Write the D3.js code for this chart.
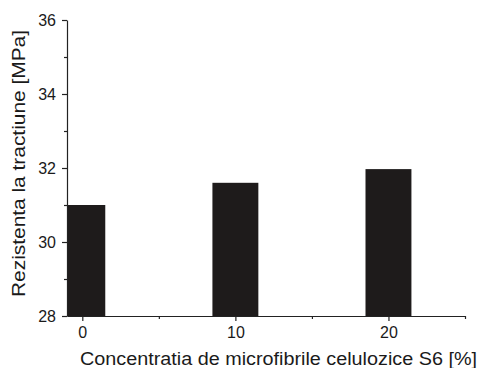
<!DOCTYPE html>
<html>
<head>
<meta charset="utf-8">
<script src="https://cdn.jsdelivr.net/npm/d3@7"></script>
<style>
  body { margin: 0; background: #fff; }
  text { font-family: "Liberation Sans", Arial, sans-serif; fill: #1a1a1a; }
</style>
</head>
<body>
<script>
const concentrations = [0, 10, 20];
const strength = [31.0, 31.6, 31.97];
const yMajorTicks = [28, 30, 32, 34, 36];
const yMinorTicks = [29, 31, 33, 35];
const xMajorTicks = [0, 10, 20];
const xMinorTicks = [5, 15, 25];

const width = 481;
const height = 368;
const margin = { top: 20, right: 16, bottom: 52, left: 67 };

const svg = d3.select("body").append("svg")
  .attr("width", width)
  .attr("height", height);

const xScale = d3.scaleLinear()
  .domain([-1, 25])
  .range([margin.left, width - margin.right]);

const yScale = d3.scaleLinear()
  .domain([28, 36])
  .range([height - margin.bottom, margin.top]);

const barW = 3; // in x units

svg.append("defs").append("clipPath").attr("id", "plot")
  .append("rect")
  .attr("x", margin.left).attr("y", margin.top)
  .attr("width", width - margin.left - margin.right)
  .attr("height", height - margin.top - margin.bottom);

// bars
svg.append("g").attr("clip-path", "url(#plot)")
  .selectAll("rect")
  .data(concentrations)
  .join("rect")
  .attr("x", d => xScale(d - barW / 2))
  .attr("width", d => xScale(d + barW / 2) - xScale(d - barW / 2))
  .attr("y", (d, i) => yScale(strength[i]))
  .attr("height", (d, i) => yScale(28) - yScale(strength[i]))
  .attr("fill", "#1e1b1b");

// x axis
const xAxis = svg.append("g")
  .attr("transform", `translate(0,${height - margin.bottom})`);
xAxis.call(d3.axisBottom(xScale).tickValues(xMajorTicks).tickSize(5).tickSizeOuter(0).tickPadding(6));
xAxis.append("g").call(d3.axisBottom(xScale).tickValues(xMinorTicks).tickSize(3).tickFormat(""))
  .select(".domain").remove();
xAxis.selectAll("text").attr("font-size", 16);

// y axis
const yAxis = svg.append("g")
  .attr("transform", `translate(${margin.left},0)`);
yAxis.call(d3.axisLeft(yScale).tickValues(yMajorTicks).tickSize(5).tickSizeOuter(0).tickPadding(6));
yAxis.append("g").call(d3.axisLeft(yScale).tickValues(yMinorTicks).tickSize(3).tickFormat(""))
  .select(".domain").remove();
yAxis.selectAll("text").attr("font-size", 16);

svg.selectAll(".domain, .tick line").attr("stroke", "#222").attr("stroke-width", 1.2);

// titles
svg.append("text")
  .attr("x", 80)
  .attr("y", 365)
  .attr("font-size", 17.5)
  .attr("textLength", 397)
  .attr("lengthAdjust", "spacingAndGlyphs")
  .text("Concentratia de microfibrile celulozice S6 [%]");

svg.append("text")
  .attr("transform", "translate(25,297) rotate(-90)")
  .attr("font-size", 17.5)
  .attr("textLength", 267)
  .attr("lengthAdjust", "spacingAndGlyphs")
  .text("Rezistenta la tractiune [MPa]");
</script>
</body>
</html>
